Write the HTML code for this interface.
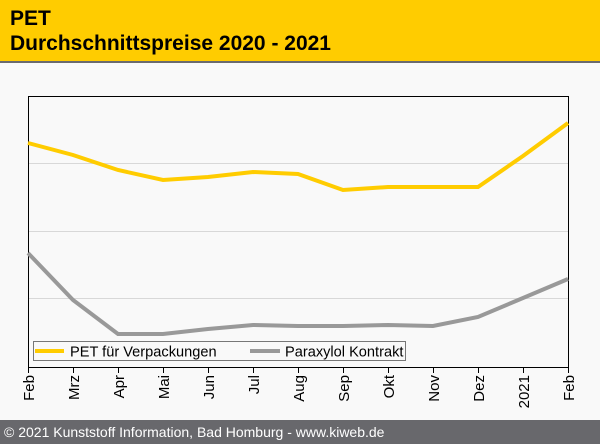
<!DOCTYPE html><html><head><style>body{margin:0;width:600px;height:444px;background:#f9f9f9;font-family:"Liberation Sans",sans-serif;position:relative;overflow:hidden}
.h{position:absolute;left:0;top:0;width:600px;height:61px;background:#ffcc00;border-bottom:2px solid #6b6b6e}
.h div{position:absolute;left:10px;font-weight:bold;font-size:21px;color:#000}
.f{position:absolute;left:0;top:420px;width:600px;height:24px;background:#68686c;color:#fff;font-size:14px;line-height:24px;padding-left:4px;box-sizing:border-box}
</style></head><body>
<div class="h"><div style="top:7px">PET</div><div style="top:32px">Durchschnittspreise 2020 - 2021</div></div>
<svg style="position:absolute;left:0;top:0" width="600" height="420" font-family="Liberation Sans" font-size="15">
<g stroke="#d8d8d8" stroke-width="1"><line x1="28" x2="568" y1="163.5" y2="163.5"/><line x1="28" x2="568" y1="231.5" y2="231.5"/><line x1="28" x2="568" y1="298.5" y2="298.5"/></g>
<rect x="28.5" y="96.5" width="540" height="271" fill="none" stroke="#000"/>
<polyline fill="none" stroke="#ffcc00" stroke-width="4" points="28,143 73,155 118,170 163,180 208,177 253,172 298,174 343,190 388,187 433,187 478,187 523,156 568,123"/>
<polyline fill="none" stroke="#999" stroke-width="4" points="28,253 73,300 118,334 163,334 208,329 253,325 298,326 343,326 388,325 433,326 478,317 523,298 568,279"/>
<rect x="33.5" y="341.5" width="372" height="19" fill="#f9f9f9" stroke="#777"/>
<line x1="35" x2="64" y1="351" y2="351" stroke="#ffcc00" stroke-width="4"/>
<text x="70" y="356.5" fill="#000" font-size="14.6">PET für Verpackungen</text>
<line x1="250" x2="280" y1="351" y2="351" stroke="#999" stroke-width="4"/>
<text x="285" y="356.5" fill="#000" font-size="14.6">Paraxylol Kontrakt</text>
<g stroke="#000"><line x1="28.5" x2="28.5" y1="367" y2="373"/><line x1="73.5" x2="73.5" y1="367" y2="373"/><line x1="118.5" x2="118.5" y1="367" y2="373"/><line x1="163.5" x2="163.5" y1="367" y2="373"/><line x1="208.5" x2="208.5" y1="367" y2="373"/><line x1="253.5" x2="253.5" y1="367" y2="373"/><line x1="298.5" x2="298.5" y1="367" y2="373"/><line x1="343.5" x2="343.5" y1="367" y2="373"/><line x1="388.5" x2="388.5" y1="367" y2="373"/><line x1="433.5" x2="433.5" y1="367" y2="373"/><line x1="478.5" x2="478.5" y1="367" y2="373"/><line x1="523.5" x2="523.5" y1="367" y2="373"/><line x1="568.5" x2="568.5" y1="367" y2="373"/></g>
<g fill="#000" text-anchor="end">
<text transform="translate(34,375) rotate(-90)">Feb</text>
<text transform="translate(79,375) rotate(-90)">Mrz</text>
<text transform="translate(124,375) rotate(-90)">Apr</text>
<text transform="translate(169,375) rotate(-90)">Mai</text>
<text transform="translate(214,375) rotate(-90)">Jun</text>
<text transform="translate(259,375) rotate(-90)">Jul</text>
<text transform="translate(304,375) rotate(-90)">Aug</text>
<text transform="translate(349,375) rotate(-90)">Sep</text>
<text transform="translate(394,375) rotate(-90)">Okt</text>
<text transform="translate(439,375) rotate(-90)">Nov</text>
<text transform="translate(484,375) rotate(-90)">Dez</text>
<text transform="translate(529,375) rotate(-90)">2021</text>
<text transform="translate(574,375) rotate(-90)">Feb</text>
</g></svg>
<div class="f">© 2021 Kunststoff Information, Bad Homburg - www.kiweb.de</div>
</body></html>
